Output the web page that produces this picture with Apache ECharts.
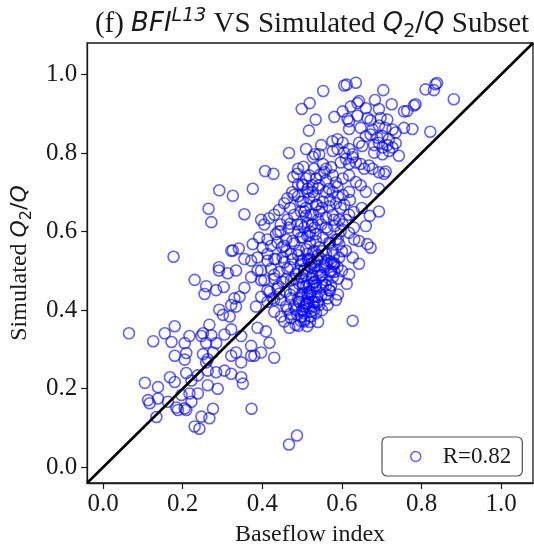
<!DOCTYPE html>
<html>
<head>
<meta charset="utf-8">
<script src="https://cdn.jsdelivr.net/npm/echarts@6/dist/echarts.min.js"></script>
<style>html,body{margin:0;padding:0;background:#fff}#c{width:534px;height:552px}</style>
</head>
<body>
<div id="c"></div>
<script>
// Axis ticks
const tickValues = [0.0, 0.2, 0.4, 0.6, 0.8, 1.0];
const axisMin = -0.04, axisMax = 1.08;
const legendLabel = 'R=0.82';

// Points [baseflow index, simulated Q2/Q], grouped by region
const ptsUpperLeft = [
[0.519,0.927],[0.499,0.912],[0.534,0.885],[0.517,0.857],[0.467,0.800],[0.532,0.797],[0.407,0.754],[0.428,0.747],[0.503,0.765],[0.478,0.739],[0.488,0.747],[0.292,0.705],[0.326,0.691],[0.376,0.709],[0.265,0.658],[0.272,0.624],[0.355,0.644],[0.177,0.536],[0.326,0.552],[0.341,0.557],[0.291,0.509]
];
const ptsUpperRight = [
[0.635,0.979],[0.606,0.972],[0.612,0.974],[0.553,0.958],[0.704,0.960],[0.810,0.962],[0.831,0.960],[0.839,0.978],[0.835,0.975],[0.881,0.937],
[0.643,0.932],[0.639,0.927],[0.683,0.935],[0.725,0.924],[0.785,0.924],[0.781,0.921],
[0.622,0.918],[0.660,0.914],[0.693,0.912],[0.764,0.907],[0.756,0.906],[0.602,0.906],[0.581,0.892],
[0.614,0.887],[0.618,0.881],[0.639,0.895],[0.664,0.889],[0.672,0.883],[0.697,0.889],[0.714,0.885],
[0.618,0.861],[0.647,0.864],[0.677,0.860],[0.693,0.870],[0.709,0.864],[0.727,0.860],[0.735,0.852],[0.756,0.864],[0.777,0.861],[0.822,0.854],
[0.660,0.843],[0.672,0.847],[0.689,0.839],[0.702,0.843],[0.718,0.835],
[0.576,0.830],[0.589,0.835],[0.602,0.826],[0.548,0.820],
[0.643,0.826],[0.651,0.818],[0.681,0.820],[0.693,0.826],[0.702,0.814],[0.714,0.820],[0.727,0.814],[0.735,0.825],
[0.543,0.797],[0.577,0.805],[0.589,0.810],[0.606,0.801],[0.618,0.810],[0.627,0.797],
[0.681,0.801],[0.702,0.797],[0.718,0.805],[0.743,0.793],
[0.552,0.772],[0.560,0.760],[0.573,0.764],
[0.597,0.776],[0.610,0.785],[0.618,0.772],[0.627,0.789],[0.635,0.776],
[0.647,0.772],[0.656,0.760],[0.668,0.768],[0.677,0.760],
[0.693,0.751],[0.706,0.747],[0.710,0.753],
[0.518,0.743],[0.535,0.735],[0.556,0.751],[0.577,0.743],
[0.602,0.735],[0.618,0.743],[0.635,0.726],[0.647,0.718],[0.660,0.701],
[0.502,0.718],[0.514,0.709],[0.527,0.701],[0.543,0.718],
[0.568,0.709],[0.577,0.701],[0.589,0.714],[0.602,0.693],[0.618,0.701],
[0.693,0.709],[0.693,0.651],[0.660,0.614],[0.618,0.597],
[0.631,0.580],[0.643,0.576],[0.664,0.568],[0.672,0.559],
[0.606,0.668],[0.618,0.643],[0.602,0.618],[0.610,0.551],[0.627,0.534],[0.643,0.518],[0.593,0.568],
[0.510,0.810],[0.527,0.790],[0.490,0.760],[0.530,0.760],[0.545,0.745],[0.560,0.730],[0.585,0.725],[0.510,0.735],[0.490,0.720],[0.475,0.700]
];
const ptsRightOfLine = [
[0.618,0.491],[0.612,0.467],[0.585,0.426],[0.564,0.413],[0.627,0.373],[0.506,0.376],[0.522,0.396],[0.510,0.413],[0.531,0.421],[0.518,0.447],[0.560,0.463],[0.573,0.463],[0.577,0.517],[0.581,0.497],[0.546,0.488],[0.531,0.472],[0.502,0.467],[0.514,0.430],[0.506,0.409]
];
const ptsLowerLeft = [
[0.291,0.501],[0.313,0.494],[0.334,0.501],[0.230,0.477],[0.259,0.461],[0.255,0.441],[0.284,0.451],[0.303,0.459],[0.355,0.457],[0.372,0.484],[0.388,0.501],[0.397,0.476],[0.330,0.430],[0.343,0.434],[0.322,0.413],[0.334,0.409],[0.292,0.401],[0.301,0.388],[0.318,0.384],[0.384,0.409],[0.397,0.434],[0.418,0.447],[0.430,0.426],[0.443,0.442],[0.430,0.396],[0.447,0.384],[0.463,0.401],[0.472,0.380],[0.488,0.388],[0.505,0.371],[0.484,0.363],[0.468,0.355],[0.455,0.371],
[0.065,0.341],[0.126,0.321],[0.155,0.341],[0.180,0.359],[0.172,0.319],[0.205,0.316],[0.217,0.334],[0.180,0.284],[0.209,0.291],[0.205,0.274],
[0.251,0.341],[0.272,0.336],[0.259,0.317],[0.284,0.316],[0.267,0.363],[0.247,0.334],
[0.305,0.338],[0.322,0.351],[0.347,0.334],[0.372,0.309],[0.380,0.284],[0.397,0.292],[0.388,0.355],[0.409,0.346],[0.418,0.317],[0.430,0.279],[0.372,0.284],[0.334,0.292],[0.347,0.267],[0.322,0.284],
[0.251,0.288],[0.263,0.275],[0.276,0.292],[0.259,0.267],
[0.105,0.215],[0.138,0.204],[0.168,0.229],[0.180,0.217],[0.209,0.240],[0.222,0.221],[0.238,0.234],[0.263,0.246],[0.284,0.242],[0.305,0.246],[0.322,0.238],[0.347,0.229],[0.351,0.213],[0.288,0.200],[0.263,0.209],[0.238,0.188],[0.217,0.188],[0.197,0.184],[0.222,0.167],[0.205,0.150],
[0.113,0.171],[0.117,0.163],[0.138,0.175],[0.163,0.167],[0.184,0.152],[0.188,0.146],[0.209,0.146],[0.134,0.128],
[0.247,0.129],[0.267,0.125],[0.276,0.149],[0.230,0.104],[0.242,0.098],
[0.373,0.149],[0.467,0.058],[0.487,0.081]
];
const ptsCoreUpper = [
[0.397,0.630],[0.405,0.618],[0.417,0.634],[0.430,0.643],[0.442,0.655],[0.455,0.672],[0.463,0.685],[0.480,0.693],[0.497,0.676],[0.513,0.701],[0.526,0.718],
[0.446,0.618],[0.463,0.630],[0.480,0.643],[0.497,0.651],[0.509,0.660],[0.522,0.643],[0.538,0.668],
[0.392,0.585],[0.413,0.580],[0.434,0.593],[0.446,0.601],[0.467,0.610],[0.488,0.618],[0.505,0.610],[0.526,0.618],
[0.376,0.568],[0.401,0.559],[0.422,0.564],[0.438,0.572],[0.455,0.564],[0.476,0.576],[0.497,0.585],[0.513,0.589],[0.534,0.593],
[0.355,0.530],[0.372,0.526],[0.388,0.534],[0.413,0.543],[0.430,0.530],[0.451,0.534],[0.472,0.543],[0.492,0.551],[0.513,0.543],[0.530,0.551],[0.322,0.551]
];
const ptsCoreRight = [
[0.502,0.676],[0.518,0.685],[0.535,0.668],[0.552,0.676],[0.568,0.664],[0.585,0.672],[0.597,0.660],[0.506,0.651],[0.527,0.643],[0.543,0.651],[0.560,0.635],[0.577,0.643],[0.593,0.630],[0.498,0.618],[0.514,0.622],[0.531,0.610],[0.548,0.618],[0.564,0.605],[0.581,0.614],[0.597,0.601],[0.502,0.585],[0.518,0.589],[0.535,0.576],[0.552,0.585],[0.568,0.572],[0.585,0.580],[0.510,0.555],[0.527,0.547],[0.543,0.560],[0.560,0.543],[0.577,0.551],[0.593,0.534],[0.502,0.526],[0.523,0.518],[0.539,0.530],[0.556,0.514],[0.573,0.522],[0.589,0.510]
];
const ptsCoreMid = [
[0.498,0.526],[0.514,0.530],[0.531,0.522],[0.548,0.530],[0.564,0.526],[0.581,0.517],[0.506,0.505],[0.523,0.509],[0.539,0.501],[0.556,0.509],[0.573,0.497],[0.498,0.484],[0.510,0.488],[0.527,0.480],[0.543,0.484],[0.560,0.476],[0.577,0.484],[0.502,0.459],[0.518,0.463],[0.535,0.455],[0.552,0.459],[0.568,0.451],[0.498,0.438],[0.514,0.442],[0.531,0.434],[0.548,0.438],[0.564,0.430],[0.493,0.421],[0.510,0.417],[0.527,0.421],[0.543,0.413],[0.502,0.401],[0.518,0.405],[0.535,0.392],[0.498,0.384]
];
const ptsCoreLower = [
[0.413,0.526],[0.434,0.530],[0.455,0.522],[0.476,0.530],[0.497,0.517],[0.517,0.526],[0.534,0.513],[0.397,0.501],[0.422,0.505],[0.442,0.497],[0.463,0.505],[0.484,0.492],[0.505,0.501],[0.526,0.488],[0.405,0.476],[0.430,0.480],[0.451,0.472],[0.472,0.476],[0.492,0.467],[0.513,0.472],[0.534,0.463],[0.413,0.451],[0.438,0.455],[0.459,0.447],[0.480,0.451],[0.501,0.442],[0.522,0.447],[0.538,0.434],[0.426,0.430],[0.446,0.426],[0.472,0.430],[0.492,0.421],[0.513,0.417],[0.530,0.409],[0.413,0.421],[0.484,0.401],[0.505,0.392],[0.522,0.384],[0.497,0.372],[0.513,0.359]
];
const ptsCoreExtra = [
[0.47,0.62],[0.49,0.60],[0.52,0.60],[0.54,0.63],[0.56,0.61],[0.58,0.63],[0.55,0.66],[0.57,0.68],[0.53,0.69],[0.49,0.69],[0.47,0.66],[0.51,0.64],[0.46,0.58],[0.48,0.57],[0.52,0.57],[0.55,0.55],[0.57,0.57],[0.59,0.58],[0.60,0.55],[0.58,0.54],[0.46,0.55],[0.49,0.54],[0.52,0.53],[0.54,0.54],[0.56,0.52],[0.58,0.52],[0.60,0.50],[0.47,0.51],[0.49,0.50],[0.52,0.51],[0.55,0.49],[0.57,0.50],[0.59,0.48],[0.46,0.48],[0.48,0.48],[0.51,0.46],[0.53,0.47],[0.55,0.47],[0.57,0.45],[0.59,0.44],[0.47,0.44],[0.49,0.43],[0.52,0.44],[0.54,0.42],[0.56,0.44],[0.46,0.41],[0.48,0.41],[0.50,0.40],[0.53,0.40],[0.55,0.40],[0.49,0.36],[0.52,0.37],[0.54,0.37],[0.47,0.39],[0.44,0.46],[0.43,0.49],[0.45,0.56],[0.44,0.60],[0.50,0.72],[0.54,0.71],[0.56,0.70],[0.59,0.69],[0.62,0.68],[0.63,0.65],[0.61,0.63],[0.63,0.61],[0.65,0.66],[0.67,0.64]
];

const allPoints = [].concat(ptsUpperLeft, ptsUpperRight, ptsRightOfLine, ptsLowerLeft, ptsCoreUpper, ptsCoreRight, ptsCoreMid, ptsCoreLower, ptsCoreExtra);

const serif = 'Liberation Serif';
const mathFont = 'DejaVu Sans';
const ink = '#1a1a1a';
const blue = 'rgba(0,0,255,0.78)';

const chart = echarts.init(document.getElementById('c'), null, {renderer: 'canvas'});
const axisCommon = {
  type: 'value', min: axisMin, max: axisMax,
  axisLine: {show: true, onZero: false, lineStyle: {color: ink, width: 1.3}},
  axisTick: {show: true, customValues: tickValues, length: 6, lineStyle: {color: ink, width: 1.2}},
  axisLabel: {customValues: tickValues, formatter: v => v.toFixed(1), fontFamily: serif, fontSize: 25, color: ink},
  splitLine: {show: false},
  nameLocation: 'middle'
};
chart.setOption({
  animation: false,
  backgroundColor: '#fff',
  title: {
    text: '{n|(f) }{m|BFI}{sup|L13}{n| VS Simulated }{m|Q}{sub|2}{s|/}{m|Q}{n| Subset}',
    left: 307, top: 2, textAlign: 'center',
    textStyle: {
      fontWeight: 'normal',
      rich: {
        n: {fontFamily: serif, fontWeight: 'normal', fontSize: 29, color: ink, lineHeight: 35},
        m: {fontFamily: mathFont, fontWeight: 'normal', fontStyle: 'italic', fontSize: 26, color: ink, lineHeight: 35},
        s: {fontFamily: mathFont, fontWeight: 'normal', fontSize: 26, color: ink, lineHeight: 35},
        sup: {fontFamily: mathFont, fontWeight: 'normal', fontStyle: 'italic', fontSize: 19, color: ink, lineHeight: 21, verticalAlign: 'top'},
        sub: {fontFamily: mathFont, fontWeight: 'normal', fontSize: 19, color: ink, lineHeight: 19, verticalAlign: 'bottom'}
      }
    }
  },
  grid: {left: 87, top: 43, width: 446, height: 446, show: true, borderColor: ink, borderWidth: 1.3, containLabel: false},
  xAxis: Object.assign({}, axisCommon, {
    axisLabel: Object.assign({}, axisCommon.axisLabel, {margin: 9}),
    name: 'Baseflow index', nameGap: 40,
    nameTextStyle: {fontFamily: serif, fontSize: 24, color: ink}
  }),
  yAxis: Object.assign({}, axisCommon, {
    axisLabel: Object.assign({}, axisCommon.axisLabel, {margin: 10}),
    name: '{n|Simulated }{m|Q}{sub|2}{s|/}{m|Q}', nameGap: 52, nameRotate: 90,
    nameTextStyle: {
      rich: {
        n: {fontFamily: serif, fontSize: 24, color: ink, lineHeight: 30},
        m: {fontFamily: mathFont, fontStyle: 'italic', fontSize: 22, color: ink, lineHeight: 30},
        s: {fontFamily: mathFont, fontSize: 22, color: ink, lineHeight: 30},
        sub: {fontFamily: mathFont, fontSize: 16, color: ink, lineHeight: 18, verticalAlign: 'bottom'}
      }
    }
  }),
  legend: {
    left: 382, top: 437, orient: 'horizontal',
    padding: [8, 11, 8, 28], itemWidth: 10, itemHeight: 10,
    borderColor: '#555', borderWidth: 1.2, borderRadius: 5, backgroundColor: '#fff',
    textStyle: {fontFamily: serif, fontSize: 23, color: ink, padding: [0, 0, 0, 17]},
    data: [{name: legendLabel, icon: 'circle', itemStyle: {color: 'rgba(0,0,0,0)', borderColor: blue, borderWidth: 1.5}}]
  },
  series: [
    {
      name: legendLabel, type: 'scatter', data: allPoints, symbol: 'circle', symbolSize: 11,
      itemStyle: {color: 'rgba(0,0,0,0)', borderColor: blue, borderWidth: 1.6}, z: 2, silent: true
    },
    {
      name: 'diagonal', type: 'line', data: [[axisMin, axisMin], [axisMax, axisMax]], showSymbol: false,
      lineStyle: {color: '#000', width: 2.6}, z: 5, silent: true
    }
  ]
});
</script>
</body>
</html>
